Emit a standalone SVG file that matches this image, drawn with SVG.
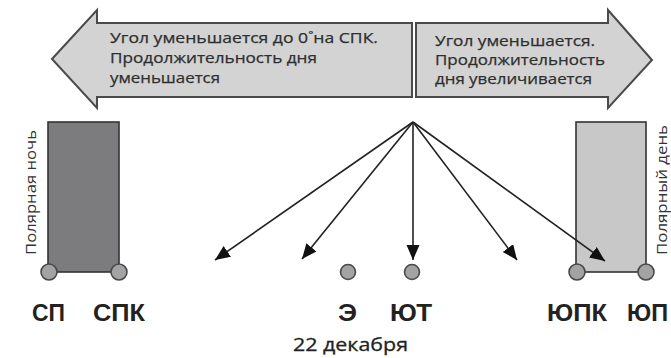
<svg xmlns="http://www.w3.org/2000/svg" width="671" height="358" viewBox="0 0 671 358">
<style>
.big{fill:#d3d3d3;stroke:#4a4a4a;stroke-width:2;stroke-linejoin:miter}
.t{font-family:"Open Sans","DejaVu Sans",sans-serif;font-size:15px;fill:#2e2e2e;stroke:#2e2e2e;stroke-width:0.25}
.lbl{font-family:"Liberation Sans",Arial,sans-serif;font-weight:bold;font-size:23px;fill:#222}
.rot{font-family:"Open Sans","DejaVu Sans",sans-serif;font-size:14px;fill:#333}
.date{font-family:"Open Sans","DejaVu Sans",sans-serif;font-size:19px;fill:#222;stroke:#222;stroke-width:0.3}
.dot{fill:#a3a3a5;stroke:#4a4a4a;stroke-width:1.6}
.ray{stroke:#222;stroke-width:1.6;fill:none;marker-end:url(#ah)}
</style>
<defs>
<marker id="ah" markerUnits="userSpaceOnUse" markerWidth="16" markerHeight="14" refX="15" refY="6.5" orient="auto">
<path d="M0,0 L15,6.5 L0,13 Z" fill="#111"/>
</marker>
</defs>
<rect width="671" height="358" fill="#fff"/>
<g id="arrow-left">
<polygon class="big" points="52,59 97,10 97,23 412,23 412,97 97,97 97,108"/>
<text class="t" x="110" y="43" textLength="268" lengthAdjust="spacingAndGlyphs">Угол уменьшается до 0˚на СПК.</text>
<text class="t" x="110" y="63" textLength="207" lengthAdjust="spacingAndGlyphs">Продолжительность дня</text>
<text class="t" x="110" y="83" textLength="110" lengthAdjust="spacingAndGlyphs">уменьшается</text>
</g>
<g id="arrow-right">
<polygon class="big" points="416,23 608,23 608,10 652,60 608,108 608,97 416,97"/>
<text class="t" x="435" y="46" textLength="160" lengthAdjust="spacingAndGlyphs">Угол уменьшается.</text>
<text class="t" x="435" y="65" textLength="170" lengthAdjust="spacingAndGlyphs">Продолжительность</text>
<text class="t" x="435" y="84" textLength="157" lengthAdjust="spacingAndGlyphs">дня увеличивается</text>
</g>
<g id="polar-night">
<rect x="48" y="122" width="71" height="150" fill="#7c7c7e" stroke="#333" stroke-width="1.6"/>
<text class="rot" transform="translate(36,255) rotate(-90)" textLength="125" lengthAdjust="spacingAndGlyphs">Полярная ночь</text>
</g>
<g id="polar-day">
<rect x="576" y="122" width="70" height="150" fill="#c8c8c8" stroke="#333" stroke-width="1.6"/>
<text class="rot" transform="translate(667,255) rotate(-90)" textLength="130" lengthAdjust="spacingAndGlyphs">Полярный день</text>
</g>
<g id="connectors">
<line class="ray" x1="413" y1="122" x2="215" y2="260"/>
<line class="ray" x1="413" y1="122" x2="302" y2="259"/>
<line class="ray" x1="413" y1="122" x2="413" y2="260"/>
<line class="ray" x1="413" y1="122" x2="517" y2="260"/>
<line class="ray" x1="413" y1="122" x2="605" y2="261"/>
</g>
<g id="node-sp"><circle class="dot" cx="49" cy="272" r="8"/><text class="lbl" x="32" y="321" textLength="33" lengthAdjust="spacingAndGlyphs">СП</text></g>
<g id="node-spk"><circle class="dot" cx="119" cy="272" r="8"/><text class="lbl" x="93" y="321" textLength="52" lengthAdjust="spacingAndGlyphs">СПК</text></g>
<g id="node-e"><circle class="dot" cx="348" cy="272" r="7.5"/><text class="lbl" x="338" y="321" textLength="19" lengthAdjust="spacingAndGlyphs">Э</text></g>
<g id="node-yut"><circle class="dot" cx="412" cy="272" r="7.5"/><text class="lbl" x="390" y="321" textLength="42" lengthAdjust="spacingAndGlyphs">ЮТ</text></g>
<g id="node-yupk"><circle class="dot" cx="577" cy="272" r="8"/><text class="lbl" x="547" y="321" textLength="60" lengthAdjust="spacingAndGlyphs">ЮПК</text></g>
<g id="node-yup"><circle class="dot" cx="646" cy="272" r="8"/><text class="lbl" x="627" y="321" textLength="41" lengthAdjust="spacingAndGlyphs">ЮП</text></g>
<g id="date"><text class="date" x="293" y="351" textLength="115" lengthAdjust="spacingAndGlyphs">22 декабря</text></g>
</svg>
